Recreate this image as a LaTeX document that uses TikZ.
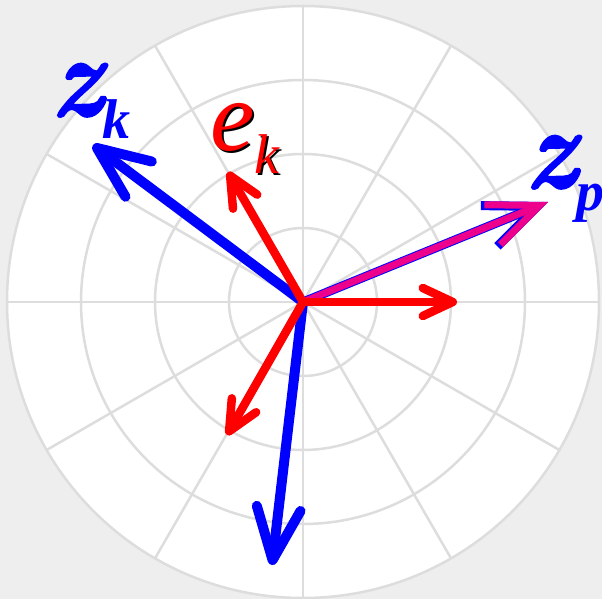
\documentclass[tikz,border=0pt]{standalone}
\usepackage{fontspec}
\usepackage{graphicx}
\newfontfamily\subfont{Liberation Serif}
\newfontfamily\zfont{Latin Modern Roman}[BoldItalicFeatures={FakeBold=1.6}]
\usetikzlibrary{arrows.meta}
\definecolor{gridgray}{HTML}{DDDDDD}
\definecolor{bggray}{HTML}{EEEEEE}
% big symbol with lowered subscript
\newcommand{\veclabel}[2]{\fontsize{100}{100}\selectfont #1\raisebox{-23pt}{\subfont\fontsize{56}{56}\selectfont #2}}
\newcommand{\zsym}{{\zfont\fontsize{116}{116}\bfseries\itshape\selectfont\scalebox{0.9}[1]{z}}}
\begin{document}
\begin{tikzpicture}[x=1pt, y=1pt,
  grid/.style={gridgray, line width=2.5pt},
  bluevec/.style={blue, line width=10pt, line cap=round, -{Straight Barb[length=52pt, width=44pt, round]}},
  redvec/.style={red, line width=8.5pt, line cap=round, -{Straight Barb[length=30pt, width=28pt, round]}},
  lbl/.style={anchor=base west, inner sep=0pt}]
\fill[bggray] (-303,-297) rectangle (299,302);
\useasboundingbox (-303,-297) rectangle (299,302);
% polar grid
\fill[white] (0,0) circle (296);
\foreach \r in {74,148,222,296}
  \draw[grid] (0,0) circle (\r);
\foreach \a in {0,30,...,330}
  \draw[grid] (0,0) -- (\a:296);
% vectors
\coordinate (O) at (0,0);
\coordinate (zk) at (-210,157);
\coordinate (zd) at (-31,-263);
\coordinate (zp) at (245,100);
\coordinate (ek) at (-75,130);
\coordinate (ex) at (154,0);
\coordinate (ey) at (-76,-133);
\draw[bluevec] (O) -- (zk);
\draw[bluevec] (O) -- (zd);
\draw[blue, line width=9pt, -{Straight Barb[length=52pt, width=44pt]}] (O) -- (zp);
\draw[magenta, line width=7pt, -{Straight Barb[length=51pt, width=43pt]}] (O) -- (zp);
\draw[redvec] (O) -- (ek);
\draw[redvec] (O) -- (ex);
\draw[redvec] (O) -- (ey);
% labels
\node[lbl, blue] (zklbl) at (-252,186) {\veclabel{\zsym}{\bfseries\itshape k}};
\node[lbl, black] (ekshadow) at (-91,149) {\veclabel{\subfont\itshape e}{\itshape k}};
\node[lbl, red] (eklbl) at (-93,151) {\veclabel{\subfont\itshape e}{\itshape k}};
\node[lbl, blue] (zplbl) at (222,114) {\veclabel{\zsym}{\bfseries\itshape p}};
\end{tikzpicture}
\end{document}
